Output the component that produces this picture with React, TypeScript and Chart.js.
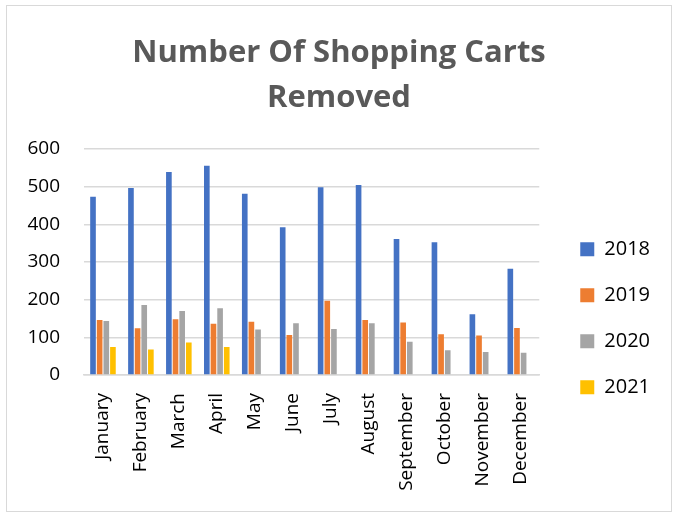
import React, { useEffect, useRef } from "react";
import { Chart, registerables } from "chart.js";

Chart.register(...registerables);

const months = [
  "January", "February", "March", "April", "May", "June",
  "July", "August", "September", "October", "November", "December",
];
const y2018 = [473, 496, 539, 555, 481, 392, 498, 504, 361, 352, 161, 282];
const y2019 = [146, 124, 148, 136, 141, 106, 197, 146, 139, 108, 105, 125];
const y2020 = [143, 186, 170, 177, 121, 137, 122, 137, 88, 66, 61, 59];
const y2021 = [74, 68, 86, 74, null, null, null, null, null, null, null, null];
const yTicks = [0, 100, 200, 300, 400, 500, 600];

const FONT = "'Open Sans', 'DejaVu Sans', sans-serif";

export default function App() {
  const ref = useRef<HTMLCanvasElement | null>(null);
  useEffect(() => {
    if (!ref.current) return;
    const mk = (label: string, data: (number | null)[], color: string) => ({
      label,
      data,
      backgroundColor: color,
      borderWidth: 0,
      categoryPercentage: 0.7,
      barPercentage: 0.85,
    });
    const chart = new Chart(ref.current, {
      type: "bar",
      data: {
        labels: months,
        datasets: [
          mk("2018", y2018, "#4472C4"),
          mk("2019", y2019, "#ED7D31"),
          mk("2020", y2020, "#A5A5A5"),
          mk("2021", y2021, "#FFC000"),
        ],
      },
      options: {
        animation: false,
        responsive: false,
        maintainAspectRatio: false,
        layout: { padding: { left: 11, right: 11, top: 0, bottom: 0 } },
        plugins: {
          tooltip: { enabled: false },
          title: {
            display: true,
            text: ["Number Of Shopping Carts", "Removed"],
            color: "#595959",
            font: { family: FONT, size: 31, weight: "bold", lineHeight: 1.45 },
            padding: { top: 25, bottom: 28 },
          },
          legend: {
            position: "right",
            title: {
              display: true,
              text: "",
              font: { family: FONT, size: 12, lineHeight: 1.2 },
              padding: { top: 105, bottom: 0 },
            },
            labels: {
              color: "#000",
              font: { family: FONT, size: 20 },
              boxWidth: 14,
              boxHeight: 14,
              padding: 26,
            },
          },
        },
        scales: {
          x: {
            grid: { display: false },
            border: { display: true, color: "#d9d9d9", width: 1.5 },
            ticks: {
              color: "#000",
              font: { family: FONT, size: 19 },
              maxRotation: 90,
              minRotation: 90,
              padding: 10,
              autoSkip: false,
            },
            afterFit: (s: any) => {
              s.height = 136;
            },
          },
          y: {
            min: 0,
            max: 600,
            afterBuildTicks: (s: any) => {
              s.ticks = yTicks.map((v) => ({ value: v }));
            },
            grid: { color: "#d9d9d9", lineWidth: 1.5, drawTicks: false },
            border: { display: false },
            ticks: {
              color: "#000",
              font: { family: FONT, size: 19 },
              padding: 24,
            },
            afterFit: (s: any) => {
              s.width = 66;
            },
          },
          gap: {
            position: "right",
            display: true,
            grid: { display: false },
            border: { display: false },
            ticks: { display: false },
            afterFit: (s: any) => {
              s.width = 15;
            },
          },
        },
      },
    } as any);
    return () => chart.destroy();
  }, []);
  return (
    <div
      style={{
        position: "fixed",
        left: 6,
        top: 5,
        width: 666,
        height: 507,
        border: "1px solid #d9d9d9",
        boxSizing: "border-box",
        background: "#fff",
      }}
    >
      <canvas ref={ref} width={664} height={505} style={{ display: "block" }} />
    </div>
  );
}
